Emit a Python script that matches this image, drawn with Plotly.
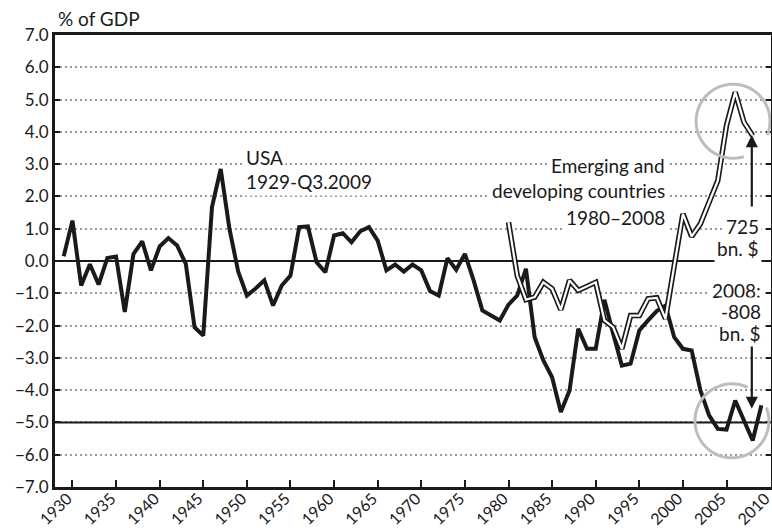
import numpy as np
import plotly.graph_objects as go

# ---- data ----
usa_years = list(range(1929, 2010))
usa_values = [
    0.15, 1.25, -0.76, -0.10, -0.73, 0.09, 0.14, -1.58, 0.22, 0.61,   # 1929-1938
    -0.29, 0.45, 0.71, 0.48, -0.09, -2.05, -2.31, 1.67, 2.85, 1.00,   # 1939-1948
    -0.32, -1.07, -0.85, -0.60, -1.38, -0.76, -0.45, 1.05, 1.07, -0.04,  # 1949-1958
    -0.35, 0.79, 0.86, 0.58, 0.92, 1.05, 0.63, -0.29, -0.11, -0.33,  # 1959-1968
    -0.11, -0.29, -0.93, -1.07, 0.09, -0.27, 0.22, -0.60, -1.53, -1.69,  # 1969-1978
    -1.84, -1.35, -1.07, -0.24, -2.36, -3.08, -3.60, -4.68, -4.01, -2.10,  # 1979-1988
    -2.72, -2.72, -1.20, -2.25, -3.24, -3.18, -2.15, -1.84, -1.55, -1.38,  # 1989-1998
    -2.36, -2.72, -2.77, -4.00, -4.78, -5.20, -5.22, -4.32, -4.94, -5.56,  # 1999-2008
    -4.47,  # 2009
]
em_years = list(range(1980, 2009))
em_values = [
    1.20, -0.45, -1.20, -1.12, -0.66, -0.86, -1.51, -0.60, -0.91, -0.79,  # 1980-1989
    -0.66, -1.84, -2.05, -2.72, -1.69, -1.69, -1.17, -1.14, -1.79, -0.15,  # 1990-1999
    1.46, 0.76, 1.15, 1.82, 2.49, 4.20, 5.23, 4.30, 3.88,  # 2000-2008
]
x_ticks = list(range(1930, 2011, 5))
y_ticks = list(range(-7, 8))

FONT = "Lato"

fig = go.Figure()
fig.add_trace(go.Scatter(x=usa_years, y=usa_values, mode="lines",
                         line=dict(color="#1a1a1a", width=4), hoverinfo="skip"))
fig.add_trace(go.Scatter(x=em_years, y=em_values, mode="lines",
                         line=dict(color="#1a1a1a", width=5.5), hoverinfo="skip"))
fig.add_trace(go.Scatter(x=em_years, y=em_values, mode="lines",
                         line=dict(color="white", width=2.2), hoverinfo="skip"))

# pixel scale helpers for circle highlights
PX_PER_YEAR = 716 / 82
PX_PER_UNIT = 452 / 14


def arc_path(cx, cy, r_px, a0, a1):
    t = np.radians(np.linspace(a0, a1, 80))
    xs = cx + r_px / PX_PER_YEAR * np.cos(t)
    ys = cy + r_px / PX_PER_UNIT * np.sin(t)
    return "M " + " L ".join(f"{x:.4f},{y:.4f}" for x, y in zip(xs, ys))


shapes = [
    dict(type="line", xref="paper", x0=0, x1=1, yref="y", y0=-5, y1=-5,
         line=dict(color="#1a1a1a", width=2), layer="above"),
    dict(type="path", xref="x", yref="y", path=arc_path(2005.75, 4.33, 37, -22, 287),
         line=dict(color="#bdbdbd", width=3)),
    dict(type="path", xref="x", yref="y", path=arc_path(2005.62, -4.95, 37, 65, 381),
         line=dict(color="#bdbdbd", width=3)),
]

tf = dict(family=FONT, size=19, color="#1a1a1a")
annotations = []


def label(text, x, y, anchor):
    annotations.append(dict(text=text, x=x, y=y, xref="x", yref="y", xanchor=anchor,
                            yanchor="middle", showarrow=False, font=tf,
                            bgcolor="white", borderpad=2))


label("USA", 1949.5, 3.22, "left")
label("1929-Q3.2009", 1949.5, 2.45, "left")
label("Emerging and", 1998.3, 2.97, "right")
label("developing countries", 1998.3, 2.17, "right")
label("1980–2008", 1998.3, 1.36, "right")
label("725", 2009.1, 1.06, "right")
label("bn. $", 2009.1, 0.40, "right")
label("2008:", 2009.3, -0.90, "right")
label("-808", 2009.3, -1.57, "right")
label("bn. $", 2009.3, -2.23, "right")

# arrows
annotations.append(dict(x=2007.9, y=3.9, ax=2007.9, ay=1.64, xref="x", yref="y",
                        axref="x", ayref="y", text="", showarrow=True, arrowhead=2,
                        arrowsize=1.1, arrowwidth=2.2, arrowcolor="#1a1a1a"))
annotations.append(dict(x=2007.9, y=-4.58, ax=2007.9, ay=-2.6, xref="x", yref="y",
                        axref="x", ayref="y", text="", showarrow=True, arrowhead=2,
                        arrowsize=1.1, arrowwidth=2.2, arrowcolor="#1a1a1a"))

annotations.append(dict(text="% of GDP", x=0, y=1.0354, xref="paper", yref="paper",
                        xanchor="left", yanchor="middle", showarrow=False,
                        font=dict(family=FONT, size=19, color="#1a1a1a"), xshift=1))

fig.update_layout(
    width=772, height=532,
    margin=dict(l=55, r=1, t=35, b=45),
    paper_bgcolor="white", plot_bgcolor="white",
    showlegend=False,
    shapes=shapes, annotations=annotations,
    font=dict(family=FONT, color="#1a1a1a"),
)
fig.update_xaxes(
    range=[1928, 2010.1], tickvals=x_ticks, tickangle=-45,
    ticks="inside", ticklen=7, tickwidth=2, tickcolor="#1a1a1a",
    showline=True, linecolor="#1a1a1a", linewidth=3, mirror=True,
    showgrid=False, zeroline=False, automargin=False,
    ticklabelstandoff=-7, ticklabelshift=-5, ticklabeloverflow="allow",
    tickfont=dict(family=FONT, size=16, color="#1a1a1a"),
)
fig.update_yaxes(
    range=[-7, 7], tickvals=y_ticks, tickformat=".1f",
    ticks="inside", ticklen=5, tickwidth=2, tickcolor="#1a1a1a",
    showline=True, linecolor="#1a1a1a", linewidth=3, mirror="ticks",
    showgrid=True, gridcolor="#9a9a9a", gridwidth=2, griddash="2px,3px",
    zeroline=True, zerolinecolor="#1a1a1a", zerolinewidth=2,
    automargin=False,
    tickfont=dict(family=FONT, size=17, color="#1a1a1a"),
)

fig.write_html(
    "out.html",
    config={"displayModeBar": False},
    post_script="document.body.style.margin='0';document.body.style.overflow='hidden';",
)
